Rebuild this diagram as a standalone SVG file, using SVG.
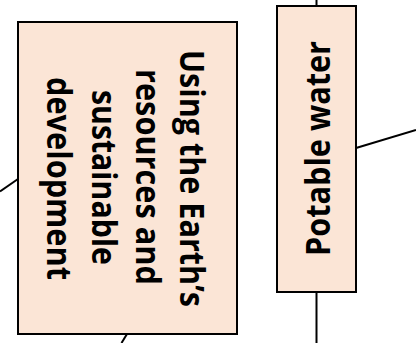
<svg xmlns="http://www.w3.org/2000/svg" width="416" height="343" viewBox="0 0 416 343">
<style>
.box{fill:#FBE5D6;stroke:#000;stroke-width:2}
.lbl{font-family:"Open Sans","Noto Sans",sans-serif;font-weight:bold;font-size:34px;fill:#000;text-anchor:middle}
.con{stroke:#000;stroke-width:2;fill:none}
</style>
<g id="connectors">
<line class="con" x1="316.5" y1="0" x2="316.5" y2="6"/>
<line class="con" x1="316.5" y1="292" x2="316.5" y2="343"/>
<line class="con" x1="356" y1="148" x2="416" y2="130"/>
<line class="con" x1="0" y1="191.5" x2="18" y2="179"/>
<line class="con" x1="121.5" y1="343" x2="127" y2="334"/>
</g>
<g id="node-earth">
<rect class="box" x="18" y="22" width="219" height="312"/>
<text class="lbl" transform="translate(180,178.5) rotate(90)" textLength="257" lengthAdjust="spacingAndGlyphs">Using the Earth’s</text>
<text class="lbl" transform="translate(136,177) rotate(90)" textLength="216" lengthAdjust="spacingAndGlyphs">resources and</text>
<text class="lbl" transform="translate(91.5,177.5) rotate(90)" textLength="175" lengthAdjust="spacingAndGlyphs">sustainable</text>
<text class="lbl" transform="translate(47,178.5) rotate(90)" textLength="203" lengthAdjust="spacingAndGlyphs">development</text>
</g>
<g id="node-water">
<rect class="box" x="277" y="6" width="79" height="286"/>
<text class="lbl" transform="translate(330,148.5) rotate(-90)" textLength="215" lengthAdjust="spacingAndGlyphs">Potable water</text>
</g>
</svg>
